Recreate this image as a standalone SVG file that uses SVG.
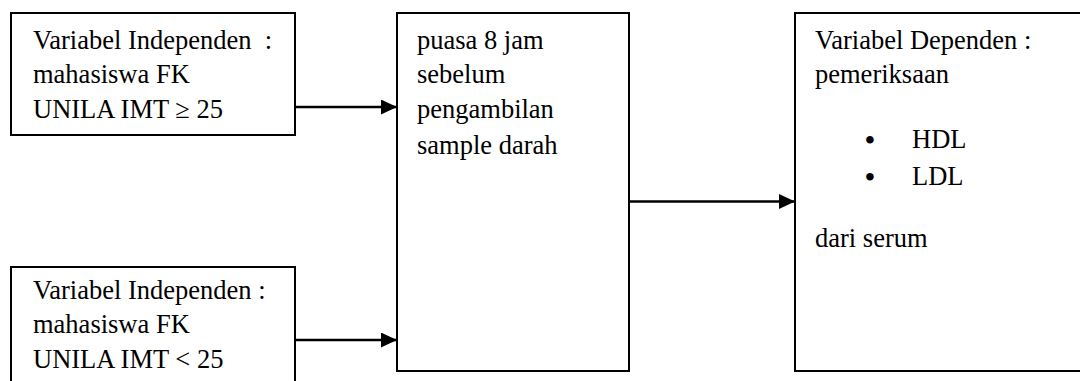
<svg xmlns="http://www.w3.org/2000/svg" width="1080" height="381" viewBox="0 0 1080 381">
  <defs>
    <style>
      .box { fill: #ffffff; stroke: #000000; stroke-width: 2; }
      .lbl { font-family: 'Liberation Serif', 'Times New Roman', Times, serif; font-size: 26.5px; fill: #000000; }
      .bul { font-family: 'DejaVu Serif', serif; font-size: 26px; fill: #000000; }
      .conn { stroke: #000000; stroke-width: 2.5; fill: none; }
    </style>
    <marker id="arrow" viewBox="0 0 16 15" refX="16" refY="7.5" markerWidth="16" markerHeight="15" markerUnits="userSpaceOnUse" orient="auto">
      <path d="M0,0 L16,7.5 L0,15 Z" fill="#000000"/>
    </marker>
  </defs>
  <rect width="1080" height="381" fill="#ffffff"/>

  <!-- independent variable, BMI >= 25 -->
  <g id="node-imt-high">
    <rect class="box" x="11" y="13" width="284" height="122"/>
    <text class="lbl" x="33" y="49">Variabel Independen&#160; :</text>
    <text class="lbl" x="33" y="83">mahasiswa FK</text>
    <text class="lbl" x="33" y="118">UNILA IMT ≥ 25</text>
  </g>

  <!-- independent variable, BMI < 25 -->
  <g id="node-imt-low">
    <path class="box" d="M11,384 L11,267 L295,267 L295,384"/>
    <text class="lbl" x="33" y="299">Variabel Independen :</text>
    <text class="lbl" x="33" y="333">mahasiswa FK</text>
    <text class="lbl" x="33" y="368">UNILA IMT &lt; 25</text>
  </g>

  <!-- fasting step -->
  <g id="node-fasting">
    <rect class="box" x="397" y="13" width="232" height="358"/>
    <text class="lbl" x="417" y="49">puasa 8 jam</text>
    <text class="lbl" x="417" y="83">sebelum</text>
    <text class="lbl" x="417" y="118">pengambilan</text>
    <text class="lbl" x="417" y="154">sample darah</text>
  </g>

  <!-- dependent variable -->
  <g id="node-dependent">
    <rect class="box" x="795" y="13" width="300" height="358"/>
    <text class="lbl" x="815" y="49">Variabel Dependen :</text>
    <text class="lbl" x="815" y="83">pemeriksaan</text>
    <text class="bul" x="870" y="150" text-anchor="middle">•</text>
    <text class="lbl" x="912" y="148">HDL</text>
    <text class="bul" x="870" y="187" text-anchor="middle">•</text>
    <text class="lbl" x="912" y="185">LDL</text>
    <text class="lbl" x="815" y="247">dari serum</text>
  </g>

  <!-- connectors -->
  <g id="connectors">
    <line class="conn" x1="295" y1="107" x2="397" y2="107" marker-end="url(#arrow)"/>
    <line class="conn" x1="295" y1="340" x2="397" y2="340" marker-end="url(#arrow)"/>
    <line class="conn" x1="629" y1="201.5" x2="795" y2="201.5" marker-end="url(#arrow)"/>
  </g>
</svg>
